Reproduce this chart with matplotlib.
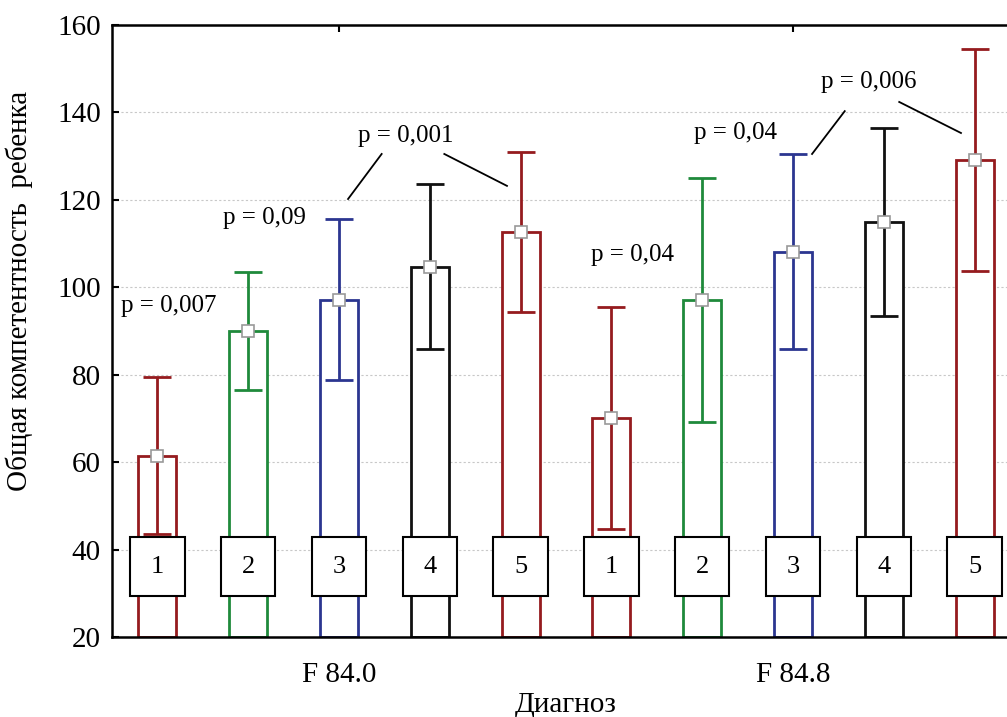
import matplotlib.pyplot as plt
import numpy as np
from matplotlib.patches import Rectangle

plt.rcParams['font.family'] = 'Liberation Serif'

groups = ['F 84.0', 'F 84.8']
labels = ['1', '2', '3', '4', '5']
means = [61.4, 90.0, 97.1, 104.6, 112.6, 70.1, 97.1, 108.1, 115.0, 129.1]
err_low = [43.5, 76.5, 78.8, 85.9, 94.3, 44.7, 69.2, 85.9, 93.4, 103.7]
err_high = [79.5, 103.5, 115.6, 123.6, 131.0, 95.5, 125.0, 130.5, 136.4, 154.5]
colors = ['#951b1e', '#1f8a3b', '#2b3690', '#111111', '#951b1e']

pvals = ['p = 0,007', 'p = 0,09', 'p = 0,001', 'p = 0,04', 'p = 0,04', 'p = 0,006']
p_x = [-0.40, 0.72, 2.21, 4.77, 5.91, 7.31]
p_y = [95.8, 115.8, 134.6, 107.4, 135.3, 147.0]

fig = plt.figure(figsize=(10.07, 7.17), dpi=100)
ax = fig.add_axes([0.1112, 0.1116, 0.9017, 0.8535])

x = np.arange(10)
means = np.array(means)
lo = means - np.array(err_low)
hi = np.array(err_high) - means
cols = colors * 2

ax.bar(x, means - 20, bottom=20, width=0.42, facecolor='white',
       edgecolor=cols, linewidth=2.0, zorder=2)
for i in range(10):
    ax.errorbar(x[i], means[i], yerr=[[lo[i]], [hi[i]]], color=cols[i],
                lw=2.0, capsize=10, capthick=2.0, fmt='none', zorder=3)
ax.plot(x, means, 's', ms=8, mfc='white', mec='#999999', mew=1.2, zorder=4)

for i in range(10):
    ax.add_patch(Rectangle((x[i] - 0.3, 29.4), 0.6, 13.5, facecolor='white',
                           edgecolor='black', lw=1.5, zorder=5))
    ax.text(x[i], 36.1, labels[i % 5], ha='center', va='center',
            fontsize=19, zorder=6)

for t, px, py in zip(pvals, p_x, p_y):
    ax.text(px, py, t, ha='left', va='center', fontsize=18)
ax.plot([2.47, 2.10], [130.5, 120.2], color='black', lw=1.3)
ax.plot([3.16, 3.85], [130.5, 123.2], color='black', lw=1.3)
ax.plot([7.57, 7.21], [140.3, 130.5], color='black', lw=1.3)
ax.plot([8.17, 8.85], [142.4, 135.3], color='black', lw=1.3)

ax.set_xlim(-0.5, 9.5)
ax.set_ylim(20, 160)
ax.set_yticks(np.arange(20, 161, 20))
ax.set_xticks([2, 7])
ax.set_xticklabels(groups)
ax.tick_params(axis='both', direction='in', labelsize=21, length=5, width=1.5)
ax.tick_params(axis='x', top=True, pad=18)
ax.tick_params(axis='y', pad=8)
ax.yaxis.grid(True, linestyle=(0, (2, 2)), color='#c8c8c8', lw=0.8)
ax.set_axisbelow(True)
for s in ax.spines.values():
    s.set_linewidth(1.8)

ax.set_xlabel('Диагноз', fontsize=21, labelpad=3)
ax.set_ylabel('Общая компетентность  ребенка', fontsize=21)
ax.yaxis.set_label_coords(-0.087, 0.565)

fig.savefig('out.png', dpi=100)
